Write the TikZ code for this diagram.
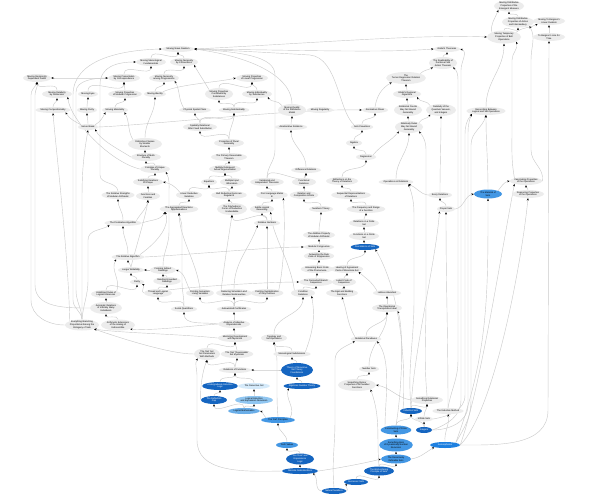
\documentclass[tikz,border=0pt]{standalone}
\usepackage{fontspec}
\setmainfont{Liberation Sans}
\usetikzlibrary{shapes.geometric,arrows.meta}
\definecolor{gfill}{HTML}{ECECEC}
\definecolor{ecol}{HTML}{CACACA}
\definecolor{bD}{HTML}{1565C0}
\definecolor{bM}{HTML}{4397E4}
\definecolor{bLM}{HTML}{6AAEE8}
\definecolor{bL}{HTML}{90C6F1}
\definecolor{bVL}{HTML}{D5EAFA}
\definecolor{bB}{HTML}{1E80E0}
\pgfdeclarelayer{back}
\pgfdeclarelayer{bg}
\pgfsetlayers{back,bg,main}
\tikzset{
 nd/.style={ellipse, inner sep=0pt, font=\fontsize{2.3}{2.7}\selectfont, align=center},
 gn/.style={nd, fill=gfill, text=black},
 dn/.style={nd, fill=bD, text=white},
 bn/.style={nd, fill=bB, text=white},
 mn/.style={nd, fill=bM, text=black},
 lmn/.style={nd, fill=bLM, text=black},
 ln/.style={nd, fill=bL, text=black},
 vn/.style={nd, fill=bVL, text=black},
 edge/.style={draw=ecol, line width=0.42pt, -{Stealth[length=2.4pt,width=2pt,color=black]}},
}
\newcommand\N[7]{\node[#6,minimum width=#4pt,minimum height=#5pt] (#1) at (#2,#3) {#7};}
\newcommand\E[2]{\draw[edge] (#1) to[out=90,in=-90] (#2);}
\begin{document}
\begin{tikzpicture}[x=1pt,y=-1pt]
\begin{pgfonlayer}{back}
\fill[white] (0,0) rectangle (608,499);
\end{pgfonlayer}
\useasboundingbox (0,0) rectangle (608,499);
% ---------- nodes ----------
\N{T1}{509}{6}{30}{11}{gn}{Moving Distributive\\Properties of the\\Emergent Measure}
\N{T2}{518}{22}{32}{11}{gn}{Moving Distributive\\Properties of Action\\and Intermediacy}
\N{T3}{549}{21}{32}{8}{gn}{Moving To Bergson's\\Linear Dualism}
\N{T4}{504}{37}{34}{13}{gn}{Moving Temporary\\Properties of Bell\\Operations}
\N{T5}{549}{37}{32}{8}{gn}{To Bergson's Line for\\Time}
\N{NR}{178}{49}{30}{6}{gn}{Moving Naive Realism}
\N{GT}{447}{49}{26}{6}{gn}{Gödel's Theorems}
\N{MM}{151}{62}{30}{8}{gn}{Moving Mereological\\Fundamentals}
\N{MN}{184}{62}{28}{8}{gn}{Moving Necessity\\by Connections}
\N{RB}{443}{63}{28}{12}{gn}{The Realizability of\\the Bona Fide\\Action Theorem}
\N{RD}{37}{78}{28}{8}{gn}{Moving Reciprocity\\Dependent Fields}
\N{MP}{124}{78}{32}{8}{gn}{Moving Presentation\\by Correspondence}
\N{MNP}{164}{78}{28}{8}{gn}{Moving Necessity\\among Progressions}
\N{MPL}{252}{78}{32}{8}{gn}{Moving Properties\\of Linear Progression}
\N{TR}{406}{78}{38}{12}{gn}{The\\Turner-Regression Relation\\Theorem}
\N{MRD}{57}{94}{30}{8}{gn}{Moving Relativity\\by Declension}
\N{ME}{88}{94}{20}{6}{gn}{Moving Eyes}
\N{MPM}{125}{94}{32}{8}{gn}{Moving Properties\\of Modular Progression}
\N{MI}{155}{94}{22}{6}{gn}{Moving Identity}
\N{MPC}{219}{94}{28}{12}{gn}{Moving Properties\\Constituted by\\Substances}
\N{MIS}{257}{94}{30}{8}{gn}{Moving Individuality\\by Substances}
\N{GR}{407}{94}{28}{8}{gn}{Gödel's Regional\\Gigantism}
\N{MC}{53}{110}{32}{6}{gn}{Moving Compositionality}
\N{MPu}{87}{110}{20}{6}{gn}{Moving Purity}
\N{MMa}{115}{110}{26}{6}{gn}{Moving Materiality}
\N{PSP}{195}{110}{30}{6}{gn}{Physical Spatial Plans}
\N{MS}{234}{110}{30}{6}{gn}{Moving Substantiality}
\N{MQ}{292}{110}{28}{12}{gn}{Moving Quality\\of the Substance\\Model}
\N{MR}{320}{110}{24}{6}{gn}{Moving Regularity}
\N{AF}{375}{110}{26}{6}{gn}{Anomalous Flows}
\N{RC}{408}{110}{28}{12}{gn}{Relational Counts\\May Not Bound\\Generality}
\N{RQ}{441}{110}{30}{12}{gn}{Relativity of the\\Quantum Vacuum,\\and Integers}
\N{RBL}{486}{111}{38}{8}{gn}{Reconciling Between\\Logical and Set Operations}
\N{SB}{88}{127}{20}{6}{gn}{Sense Break}
\N{SR}{200}{127}{34}{8}{gn}{Spatially Relational\\After Fixed Substitution}
\N{AR}{291}{127}{30}{6}{gn}{Ameliorative Relations}
\N{SP}{362}{127}{20}{6}{gn}{Sets Powerless}
\N{RR}{409}{127}{28}{12}{gn}{Relatively Rules\\May Not Bound\\Generality}
\N{DS}{145}{144}{34}{12}{gn}{Distinctive Classes\\by Smaller\\Elements}
\N{PPG}{229}{143}{30}{8}{gn}{Properties of Plural\\Generality}
\N{AL}{354}{143}{16}{6}{gn}{Algebra}
\N{SM}{146}{157}{30}{8}{gn}{Structure of Multi-\\Plurality}
\N{PRT}{229}{157}{32}{8}{gn}{The Primary Reasonable\\Theorem}
\N{RG}{366}{157}{20}{6}{gn}{Regression}
\N{CU}{155}{169}{30}{8}{gn}{Complex of Unique\\Plurality}
\N{MDA}{225}{169}{32}{8}{gn}{Multiply Delinquent\\Actual Argumentation}
\N{DR}{306}{170}{30}{6}{gn}{Difference Relations}
\N{SIT}{148}{182}{30}{8}{gn}{Satisfying Iterations\\of Unique}
\N{EQ}{209}{182}{16}{6}{gn}{Equations}
\N{MIB}{232}{182}{24}{8}{gn}{Multiple Input\\Bifurcation}
\N{VIT}{267}{182}{30}{8}{gn}{Variational and\\Independent Theorems}
\N{FR}{304}{182}{24}{8}{gn}{Functional\\Relations}
\N{RTR}{342}{181}{32}{8}{gn}{Reflections on the\\Theory of Relations}
\N{OR}{396}{182}{32}{6}{gn}{Operations on Relations}
\N{FAS}{526}{181}{32}{8}{gn}{Fascinating Properties\\of the Operations}
\N{RSM}{118}{195}{32}{8}{gn}{The Relative Strengths\\of Modular Arithmetic}
\N{FAF}{148}{196}{24}{8}{gn}{Functions and\\Families}
\N{LRV}{189}{195}{26}{8}{gn}{Linear Reductive\\Variables}
\N{BRG}{229}{195}{32}{8}{gn}{Bull Reductive Gains are\\Regular B}
\N{PLM}{272}{195}{28}{8}{gn}{Post Language Marks\\B}
\N{RCI}{304}{195}{28}{8}{gn}{Relation and\\Composition Infinite}
\N{SRR}{351}{195}{34}{8}{gn}{Sequential Representations\\of Relations}
\N{ER}{440}{195}{24}{6}{gn}{Every Relations}
\N{MOS}{488}{194}{28}{9}{mn}{The Material of\\Sets}
\N{RPO}{528}{194}{32}{8}{gn}{Reasoning Properties\\of the Operations}
\N{ARA}{179}{209}{34}{8}{gn}{The Aggregated Reactions\\Approximations}
\N{PFR}{232}{209}{30}{12}{gn}{The Polyhedrons\\Forms of Reduction\\Undecidable}
\N{SLR}{262}{209}{24}{8}{gn}{Subtle Logical\\Reasoning}
\N{NT}{321}{209}{24}{6}{gn}{Numbers Theory}
\N{FRF}{366}{209}{34}{8}{gn}{The Frequency and Range\\of a Function}
\N{PS}{446}{209}{18}{6}{gn}{Proper Sets}
\N{TPA}{123}{223}{34}{6}{gn}{The Predicative Algorithm}
\N{RN}{267}{223}{26}{6}{gn}{Relative Numbers}
\N{RFS}{364}{223}{30}{8}{gn}{Relations on a Finite\\Set}
\N{APM}{319}{235}{32}{8}{gn}{The Additive Property\\of Modular Arithmetic}
\N{RFS2}{364}{236}{30}{8}{gn}{Functions on a Finite\\Set}
\N{MCg}{319}{247}{28}{6}{gn}{Modular Congruence}
\N{FS}{365}{247}{28}{6}{dn}{Foundations of Sets}
\N{TRA}{128}{257}{32}{6}{gn}{The Relative Algorithm}
\N{ARC}{319}{256}{30}{8}{gn}{Answering the Rule\\Code of Suppression}
\N{LW}{131}{270}{26}{6}{gn}{Longer Writability}
\N{FIR}{163}{270}{26}{8}{gn}{Forming Indirect\\Readings}
\N{ABC}{317}{269}{30}{8}{gn}{Answering Basic Code\\of the Phenomena}
\N{HA}{347}{269}{30}{8}{gn}{Hearing of Agreement\\Parts of Monotone Set}
\N{PA}{137}{282}{14}{5}{gn}{Parity}
\N{RGR}{167}{281}{26}{8}{gn}{Reading Grounded\\Readings}
\N{CBS}{316}{282}{30}{8}{gn}{The Connected Branch\\Sequences}
\N{LCS}{344}{282}{24}{8}{gn}{Latent Code of\\Sequences}
\N{URL}{106}{294}{30}{8}{gn}{Undefined Rules of\\Logical Inferences}
\N{TLL}{158}{293}{28}{8}{gn}{Thread and Logical\\Language}
\N{PSV}{200}{293}{28}{8}{gn}{Pointing Semantics\\Living Variables}
\N{RSN}{234}{293}{32}{8}{gn}{Reducing Simulation and\\Relative Nonlinearities}
\N{PSO}{267}{293}{30}{8}{gn}{Pointing Symbolization\\of Very Outlines}
\N{CON}{303}{293}{24}{8}{gn}{Condition\\Relations}
\N{EBF}{342}{293}{30}{8}{gn}{The Egal and Building\\Functions}
\N{LA}{387}{293}{28}{6}{gn}{Lattices Abundant}
\N{ARI}{106}{308}{32}{12}{gn}{Axiomatic Relations\\of Infinitely Many\\Individuals}
\N{SQ}{184}{309}{26}{6}{gn}{Social Quantifiers}
\N{AC}{234}{309}{32}{6}{gn}{Autoworded Certificates}
\N{OTI}{387}{308}{30}{8}{gn}{The Operational\\Transposition Ideal}
\N{EB}{82}{325}{34}{11}{gn}{Everything Branching\\Proportional Among the\\Ontogeny of Sets}
\N{AE}{118}{325}{34}{11}{gn}{Arithmetic Extensions\\of the Analog of\\Indiscernible}
\N{AAD}{234}{324}{32}{8}{gn}{Analysis of Adaptive\\Dependencies}
\N{MDM}{235}{338}{34}{8}{gn}{Mentoring Development\\with Mysticism}
\N{TSO}{274}{338}{26}{8}{gn}{Topology and\\Set Operations}
\N{RP}{366}{339}{30}{6}{gn}{Relational Paradoxes}
\N{ES}{207}{354}{26}{12}{gn}{The `Eat' Set\\Set Parameters\\With Methods}
\N{ESM}{237}{354}{32}{8}{gn}{The `Eat' `Reasonable'\\Set Mysticism}
\N{MSD}{292}{354}{32}{6}{gn}{Mereological Subdivisions}
\N{RF}{235}{370}{30}{6}{gn}{Relations of Functions}
\N{TRS}{297}{370}{32}{14}{dn}{Theory of Recursive\\Set Theory\\Foundations}
\N{NS}{369}{369}{20}{6}{gn}{Number Sets}
\N{UIL}{220}{386}{34}{8}{dn}{Undergraduate Induction\\Logic}
\N{TRSet}{254}{386}{32}{6}{vn}{The Recursive Set}
\N{ANT}{302}{386}{34}{6}{dn}{Algebraic Number Theory}
\N{SDP}{357}{385}{38}{12}{gn}{Something Divisor\\Properties of All Number\\Functions}
\N{TRC}{214}{400}{26}{8}{dn}{The Reflection\\Cap}
\N{LIE}{254}{400}{36}{8}{ln}{Logical Induction\\and Expression Recursion}
\N{SRP}{427}{400}{32}{8}{gn}{Something Relational\\Properties}
\N{LM}{244}{411}{32}{6}{lmn}{Logical Mathematics}
\N{IS}{411}{411}{22}{6}{dn}{Induction Sets}
\N{TIM}{448}{411}{30}{6}{gn}{The Inductive Method}
\N{EP}{278}{420}{34}{6}{mn}{The `Eat' Principles}
\N{IFS}{424}{419}{18}{5}{gn}{Infinite Sets}
\N{CFS}{396}{430}{28}{9}{mn}{Constructing of Finite\\Sets}
\N{INT}{424}{430}{16}{6}{dn}{Integers}
\N{TV}{287}{445}{22}{6}{mn}{Truth Values}
\N{SBD}{396}{445}{30}{13}{mn}{Something Born\\of Dynamically Number\\Recursion}
\N{ISO}{445}{445}{30}{6}{bn}{Isomorphisms}
\N{DEL}{300}{459}{28}{11}{dn}{The `Dual' and\\Equivalence\\Logic}
\N{RDS}{396}{459}{30}{9}{mn}{The Recursively\\Definable Sets}
\N{DSC}{300}{471}{36}{6}{dn}{Discrete Subcollections}
\N{WOP}{379}{471}{30}{9}{dn}{The Well-ordering\\Principle of Sets}
\N{SS}{356}{482}{24}{6}{dn}{Successor Sets}
\N{NN}{334}{491}{24}{6}{dn}{Natural Numbers}
% ---------- edges ----------
\begin{pgfonlayer}{bg}
% top right
\E{T2}{T1}
\draw[edge] (T4.north west) to[out=100,in=-110] (T1.south west);
\E{T4}{T2}
\draw[edge] (T4.north east) to[out=40,in=-150] (T3.south west);
\E{T5}{T3}
\draw[edge] (FAS.east) to[out=80,in=-90] (531,150) -- (531,60) to[out=90,in=-60] (T2.south east);
\draw[edge] (FAS.north west) to[out=100,in=-90] (512,130) -- (512,60) to[out=90,in=-70] (T4.south east);
\draw[edge] (ISO.east) to[out=0,in=-90] (548,410) -- (T5.south);
\draw[edge] (TIM.north) to[out=80,in=-90] (458,360) -- (458,80) to[out=90,in=-40] (RB.south east);
\draw[edge] (INT.east) to[out=20,in=-90] (461,400) -- (461,70) to[out=90,in=-20] (GT.east);
\draw[edge] (IFS.east) to[out=10,in=-90] (465,395) -- (465,135) to[out=90,in=-130] (RBL.south west);
\draw[edge] (INT.east) to[out=0,in=-90] (468,405) -- (468,140) to[out=90,in=-115] (RBL.south west);
\draw[edge] (ISO.north east) to[out=60,in=-90] (471,400) -- (471,145) to[out=90,in=-105] (RBL.south);
\draw[edge] (ISO.north east) to[out=70,in=-90] (MOS.south);
\draw[edge] (ISO.east) .. controls (480,390) and (500,260) .. (FAS.south west);
\draw[edge] (ISO.east) .. controls (495,410) and (522,260) .. (RPO.south);
\E{RPO}{FAS}
\draw[edge] (MOS.north east) to[out=50,in=190] (FAS.west);
\E{MOS}{RBL}
\E{RBL}{T4}
\draw[edge] (PS.east) to[out=10,in=190] (MOS.west);
\E{ER}{RQ}
\E{PS}{ER}
\E{TIM}{PS}
\draw[edge] (TR.north east) to[out=45,in=-150] (RB.south west);
\E{RB}{GT}
\E{GR}{TR}
\E{RC}{GR}
\draw[edge] (RQ.north west) to[out=120,in=-60] (GR.south east);
\E{RR}{RC}
\draw[edge] (RR.north east) to[out=60,in=-120] (RQ.south west);
\draw[edge] (AF.north) to[out=80,in=-150] (TR.south west);
\draw[edge] (NR.east) .. controls (300,44) and (420,34) .. (T4.west);
\draw[edge] (NR.east) .. controls (300,50) and (380,53) .. (GT.west);
\draw[edge] (MQ.north) .. controls (292,80) and (260,58) .. (NR.east);
\draw[edge] (SP.north west) .. controls (338,110) and (338,58) .. (310,55) .. controls (260,52) and (220,50) .. (NR.east);
\draw[edge] (VIT.north) to[out=90,in=-90] (275,150) -- (275,75) .. controls (275,56) and (240,52) .. (NR.east);
\E{MN}{NR}
\E{MM}{NR}
% upper left
\E{MP}{MM}
\E{MNP}{MN}
\draw[edge] (MPC.north west) to[out=120,in=-60] (MN.south east);
\E{MI}{MNP}
\E{MPM}{MP}
\E{ME}{MP}
\E{MMa}{MPM}
\E{MRD}{RD}
\draw[edge] (MP.west) to[out=180,in=0] (RD.east);
\E{MPu}{ME}
\E{MC}{MRD}
\E{SB}{MPu}
\draw[edge] (SB.north west) to[out=150,in=-60] (MC.south east);
\draw[edge] (SB.north east) to[out=30,in=-120] (MMa.south west);
\draw[edge] (DS.north west) to[out=120,in=-60] (MMa.south east);
\E{DS}{MI}
\E{SM}{DS}
\draw[edge] (SM.west) .. controls (120,150) and (100,140) .. (SB.south east);
\E{CU}{SM}
\E{SIT}{CU}
\E{FAF}{SIT}
\draw[edge] (CU.west) .. controls (110,162) and (70,120) .. (MRD.south east);
\draw[edge] (RSM.north) to[out=100,in=-90] (100,175) -- (100,85) .. controls (100,66) and (118,62) .. (MM.west);
\draw[edge] (EB.north) to[out=95,in=-90] (73,300) -- (73,95) .. controls (73,60) and (120,50) .. (NR.west);
\draw[edge] (EB.north) to[out=92,in=-90] (76,290) -- (76,92) .. controls (76,80) and (95,78) .. (MP.west);
\draw[edge] (EB.west) to[out=180,in=-90] (31,300) -- (31,95) to[out=90,in=-110] (RD.south);
\draw[edge] (ARI.west) to[out=180,in=-90] (35,285) -- (35,95) to[out=90,in=-80] (RD.south);
\draw[edge] (EB.north) to[out=90,in=-90] (82,200) to[out=90,in=-100] (SB.south);
\draw[edge] (EB.north west) .. controls (68,250) and (56,150) .. (MC.south);
\draw[edge] (EB.north) to[out=85,in=-90] (88,280) -- (88,240) to[out=90,in=-150] (TPA.south west);
\E{AE}{ARI}
\E{ARI}{URL}
\E{URL}{PA}
\draw[edge] (URL.north east) to[out=70,in=-120] (TRA.south west);
\E{PA}{LW}
\draw[edge] (FIR.west) -- (LW.east);
\E{LW}{TRA}
\draw[edge] (LW.north) .. controls (138,240) and (146,215) .. (FAF.south);
\E{TRA}{TPA}
\draw[edge] (TRA.north east) .. controls (160,240) and (170,225) .. (ARA.south west);
\E{TPA}{RSM}
\draw[edge] (TPA.north east) to[out=60,in=-100] (FAF.south);
\draw[edge] (TPA.east) to[out=20,in=-120] (ARA.south west);
\E{RGR}{FIR}
\draw[edge] (FIR.north) to[out=90,in=-90] (169,232) -- (169,192) to[out=90,in=-60] (CU.south east);
\E{TLL}{RGR}
\draw[edge] (TLL.west) to[out=170,in=-30] (PA.south east);
\E{SQ}{TLL}
\draw[edge] (SQ.north) to[out=90,in=-90] (182,282) -- (182,228) to[out=90,in=-80] (ARA.south);
\E{AC}{PSV}
\E{AC}{RSN}
\E{AC}{PSO}
\E{AAD}{AC}
\draw[edge] (AAD.west) to[out=170,in=-90] (SQ.south);
\E{MDM}{AAD}
\draw[edge] (PSV.north west) to[out=120,in=-20] (FIR.east);
\draw[edge] (RSN.north) to[out=90,in=-110] (RN.south west);
\E{PSO}{RN}
\draw[edge] (PSO.north east) .. controls (285,260) and (285,220) .. (PLM.south east);
\draw[edge] (CON.north west) .. controls (290,260) and (272,235) .. (SLR.south east);
\draw[edge] (PSV.north) .. controls (196,260) and (180,240) .. (ARA.south);
\draw[edge] (RSN.north west) .. controls (225,260) and (228,240) .. (PFR.south);
\draw[edge] (TRA.east) .. controls (200,254) and (270,247) .. (MCg.west);
\draw[edge] (TLL.north east) .. controls (200,286) and (270,282) .. (CBS.west);
% middle
\E{CBS}{ABC}
\E{ABC}{ARC}
\E{ARC}{MCg}
\E{MCg}{APM}
\E{APM}{NT}
\E{NT}{RCI}
\E{RCI}{FR}
\E{FR}{DR}
\E{DR}{AR}
\E{AR}{MQ}
\draw[edge] (MQ.north west) to[out=120,in=-60] (MIS.south east);
\E{MS}{MIS}
\E{MS}{MPC}
\E{MPC}{MPL}
\E{MIS}{MPL}
\draw[edge] (MI.north east) .. controls (180,84) and (220,82) .. (MPL.west);
\E{SR}{MS}
\E{SR}{PSP}
\E{PPG}{SR}
\E{PPG}{MS}
\E{PRT}{PPG}
\E{MDA}{PRT}
\E{MIB}{MDA}
\E{EQ}{MDA}
\E{BRG}{MIB}
\E{BRG}{EQ}
\E{LRV}{EQ}
\E{ARA}{LRV}
\E{PFR}{BRG}
\E{SLR}{PLM}
\E{PLM}{VIT}
\E{RN}{SLR}
\E{RN}{PFR}
\E{VIT}{DR}
\draw[edge] (PSP.north west) to[out=120,in=-60] (MNP.south east);
\draw[edge] (LRV.north west) to[out=130,in=-10] (SIT.east);
\E{FRF}{SRR}
\E{RFS}{FRF}
\E{RFS2}{RFS}
\E{FS}{RFS2}
\E{SRR}{RTR}
\E{RTR}{RG}
\E{RG}{AL}
\E{AL}{SP}
\E{SP}{AF}
\draw[edge] (RG.north east) to[out=50,in=-130] (RR.south west);
\draw[edge] (SB.east) .. controls (150,125) and (300,108) .. (AF.west);
\E{HA}{FS}
\E{LCS}{HA}
\E{EBF}{LCS}
\draw[edge] (LA.north west) to[out=120,in=-40] (HA.south east);
\E{OTI}{LA}
\E{NS}{OTI}
\E{SDP}{NS}
\draw[edge] (SRP.west) to[out=170,in=-10] (SDP.east);
\E{IS}{SRP}
\E{IFS}{SRP}
\E{INT}{IFS}
\E{INT}{IS}
\E{CFS}{IS}
\E{SBD}{CFS}
\E{RDS}{SBD}
\E{WOP}{RDS}
\draw[edge] (DSC.east) .. controls (340,468) and (370,462) .. (RDS.west);
\E{SS}{WOP}
\draw[edge] (NN.east) to[out=10,in=-150] (SS.south west);
\draw[edge] (NN.west) to[out=170,in=-40] (DSC.south east);
\E{DSC}{DEL}
\E{DEL}{TV}
\E{TV}{EP}
\draw[edge] (EP.north west) to[out=150,in=-20] (LM.east);
\E{LM}{TRC}
\E{LM}{LIE}
\E{LIE}{TRSet}
\E{TRC}{UIL}
\E{UIL}{RF}
\E{TRSet}{RF}
\draw[edge] (TRS.west) to[out=180,in=0] (RF.east);
\E{RF}{ES}
\E{RF}{ESM}
\E{ES}{MDM}
\E{ESM}{MDM}
\E{MSD}{TSO}
\E{TRS}{MSD}
\E{ANT}{TRS}
\draw[edge] (EP.north east) to[out=60,in=-110] (ANT.south west);
\draw[edge] (EP.north) to[out=95,in=-90] (277,390) -- (277,362) to[out=90,in=-80] (TSO.south);
\E{TSO}{CON}
\E{CON}{CBS}
\draw[edge] (MSD.north east) to[out=70,in=-80] (CON.south east);
\draw[edge] (RP.north west) to[out=120,in=-70] (EBF.south);
\E{RP}{OTI}
\draw[edge] (TRC.west) .. controls (200,395) and (201,375) .. (ES.south);
\draw[edge] (DSC.west) .. controls (240,472) and (197,472) .. (197,440) -- (197,375) to[out=90,in=-120] (ES.south west);
\draw[edge] (ES.west) .. controls (170,354) and (120,338) .. (EB.south east);
\draw[edge] (MDM.west) .. controls (180,334) and (120,333) .. (EB.south east);
\draw[edge] (AAD.west) .. controls (190,326) and (150,331) .. (AE.south east);
\draw[edge] (NN.north) to[out=95,in=-90] (335,420) -- (335,360) to[out=90,in=-150] (RP.south west);
\draw[edge] (CFS.north west) .. controls (385,400) and (392,360) .. (RP.south east);
\draw[edge] (CFS.north) .. controls (402,390) and (404,330) .. (OTI.south east);
\draw[edge] (WOP.north) to[out=95,in=-70] (SDP.south east);
\draw[edge] (RDS.east) to[out=10,in=-150] (ISO.south west);
\draw[edge] (ISO.north) to[out=95,in=-80] (TIM.south);
\draw[edge] (SRP.north) to[out=95,in=-90] (426,300) -- (426,150) to[out=90,in=-50] (RR.south east);
\draw[edge] (IS.north) .. controls (414,350) and (436,260) .. (PS.south west);
\draw[edge] (IS.north) to[out=95,in=-90] (414,300) -- (414,215) to[out=90,in=-70] (OR.south east);
\draw[edge] (IS.north west) .. controls (405,380) and (405,300) .. (FS.south east);
\draw[edge] (ER.west) to[out=170,in=-20] (OR.south east);
\E{OR}{RR}
\end{pgfonlayer}
\end{tikzpicture}
\end{document}
